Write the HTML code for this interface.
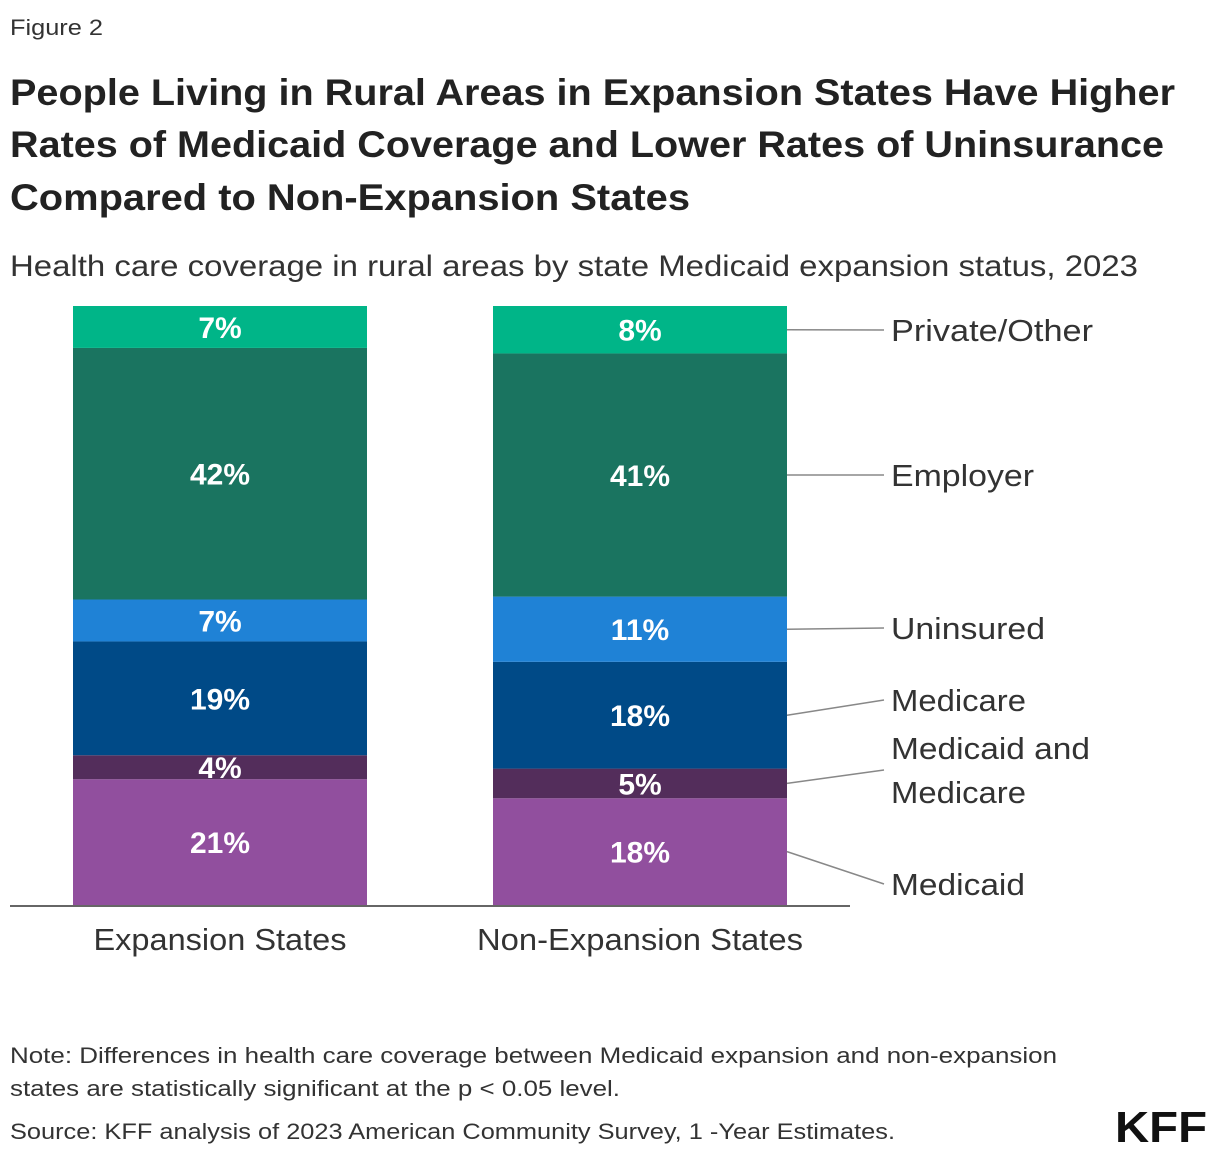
<!DOCTYPE html>
<html><head><meta charset="utf-8"><style>
html,body{margin:0;padding:0;background:#fff;}
svg{display:block;font-family:"Liberation Sans",sans-serif;}
</style></head><body>
<svg id="chart" width="1220" height="1160" viewBox="0 0 1220 1160">
<text x="10" y="35" font-size="22" fill="#333" textLength="93" lengthAdjust="spacingAndGlyphs">Figure 2</text>
<g font-weight="bold" font-size="37" fill="#222">
<text x="10" y="105" textLength="1165" lengthAdjust="spacingAndGlyphs">People Living in Rural Areas in Expansion States Have Higher</text>
<text x="10" y="157" textLength="1154" lengthAdjust="spacingAndGlyphs">Rates of Medicaid Coverage and Lower Rates of Uninsurance</text>
<text x="10" y="210" textLength="680" lengthAdjust="spacingAndGlyphs">Compared to Non-Expansion States</text>
</g>
<text x="10" y="276" font-size="30" fill="#333" textLength="1128" lengthAdjust="spacingAndGlyphs">Health care coverage in rural areas by state Medicaid expansion status, 2023</text>
<g id="bars"></g>
<line x1="10" y1="906" x2="850" y2="906" stroke="#333" stroke-width="1.5"/>
<g id="xlabels"></g>
<g id="legend"></g>
<g font-size="22" fill="#333">
<text x="10" y="1063" textLength="1047" lengthAdjust="spacingAndGlyphs">Note: Differences in health care coverage between Medicaid expansion and non-expansion</text>
<text x="10" y="1096" textLength="610" lengthAdjust="spacingAndGlyphs">states are statistically significant at the p &lt; 0.05 level.</text>
</g>
<text x="10" y="1139" font-size="22" fill="#333" textLength="885" lengthAdjust="spacingAndGlyphs">Source: KFF analysis of 2023 American Community Survey, 1 -Year Estimates.</text>
<text x="1115" y="1142" font-size="44" font-weight="bold" fill="#111" textLength="92" lengthAdjust="spacingAndGlyphs">KFF</text>
</svg>
<script>
const categories = ["Expansion States", "Non-Expansion States"];
const seriesNames = ["Medicaid", "Medicaid and Medicare", "Medicare", "Uninsured", "Employer", "Private/Other"];
const medicaid = [21, 18];
const dual = [4, 5];
const medicare = [19, 18];
const uninsured = [7, 11];
const employer = [42, 41];
const privateOther = [7, 8];
const colors = ["#914f9e", "#532d5b", "#004a87", "#1f82d6", "#1a7460", "#00b588"];
const series = [medicaid, dual, medicare, uninsured, employer, privateOther];
const NS = "http://www.w3.org/2000/svg";
const baseY = 905, plotH = 599, barW = 294;
const barX = i => 73 + i * 420;
function yScale(cum, total) { return baseY - cum / total * plotH; }
const catW = [253, 326];
const gb = document.getElementById("bars");
const mids = [];
categories.forEach((c, i) => {
  const total = series.reduce((s, a) => s + a[i], 0);
  let cum = 0;
  series.forEach((arr, k) => {
    const y0 = yScale(cum, total), y1 = yScale(cum + arr[i], total);
    const r = document.createElementNS(NS, "rect");
    
    
    r.setAttribute("x", barX(i)); r.setAttribute("y", y1);
    r.setAttribute("width", barW); r.setAttribute("height", y0 - y1);
    r.setAttribute("fill", colors[k]);
    gb.appendChild(r);
    const t = document.createElementNS(NS, "text");
    
    
    t.setAttribute("x", barX(i) + barW / 2); t.setAttribute("y", (y0 + y1) / 2 + 11);
    t.setAttribute("text-anchor", "middle"); t.setAttribute("fill", "#fff");
    t.setAttribute("font-size", "30"); t.setAttribute("font-weight", "bold");
    t.textContent = arr[i] + "%";
    gb.appendChild(t);
    if (i === 1) mids.push((y0 + y1) / 2);
    cum += arr[i];
  });
  const xl = document.createElementNS(NS, "text");
  
  
  xl.setAttribute("x", barX(i) + barW / 2); xl.setAttribute("y", 950);
  xl.setAttribute("text-anchor", "middle"); xl.setAttribute("font-size", "31"); xl.setAttribute("fill", "#333");
  xl.setAttribute("textLength", catW[i]); xl.setAttribute("lengthAdjust", "spacingAndGlyphs");
  xl.textContent = c;
  document.getElementById("xlabels").appendChild(xl);
});
const lg = document.getElementById("legend");
const labelY = [884, 770, 700, 628, 475, 330];
const labelW = [134, 199, 135, 154, 143, 202];
seriesNames.forEach((n, k) => {
  const l = document.createElementNS(NS, "line");
  
  
  l.setAttribute("x1", 787); l.setAttribute("y1", mids[k]);
  l.setAttribute("x2", 884); l.setAttribute("y2", labelY[k]);
  l.setAttribute("stroke", "#888"); l.setAttribute("stroke-width", "1.5");
  lg.appendChild(l);
  const t = document.createElementNS(NS, "text");
  
  
  t.setAttribute("x", 891); t.setAttribute("font-size", "31"); t.setAttribute("fill", "#333");
  if (k === 1) {
    t.setAttribute("y", 759);
    const a = document.createElementNS(NS, "tspan"); a.setAttribute("x", 891); a.setAttribute("textLength", 199); a.setAttribute("lengthAdjust", "spacingAndGlyphs"); a.textContent = "Medicaid and";
    const b = document.createElementNS(NS, "tspan"); b.setAttribute("x", 891); b.setAttribute("dy", 44); b.setAttribute("textLength", 135); b.setAttribute("lengthAdjust", "spacingAndGlyphs"); b.textContent = "Medicare";
    t.appendChild(a); t.appendChild(b);
  } else {
    t.setAttribute("y", labelY[k] + 11);
    t.setAttribute("textLength", labelW[k]); t.setAttribute("lengthAdjust", "spacingAndGlyphs");
    t.textContent = n;
  }
  lg.appendChild(t);
});
</script>
</body></html>
